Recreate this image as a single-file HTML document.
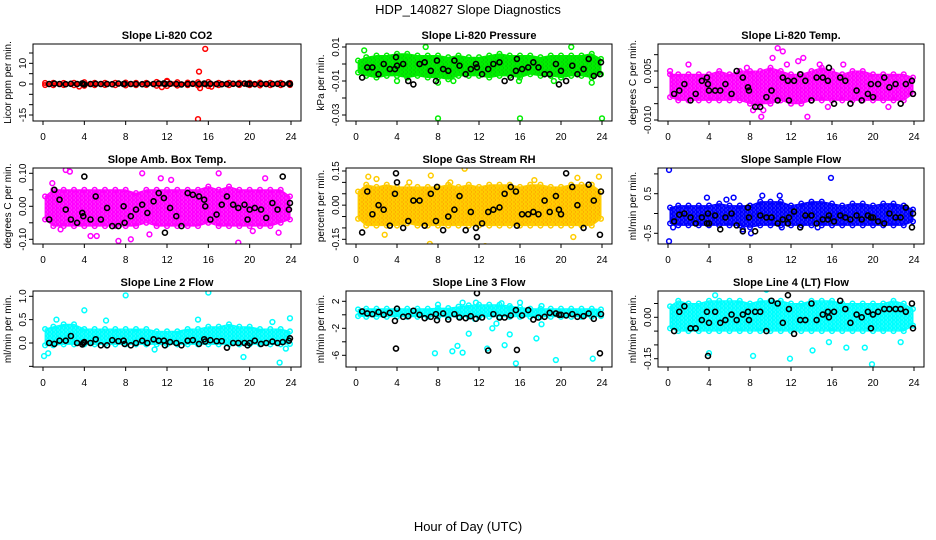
<!DOCTYPE html>
<html><head><meta charset="utf-8"><style>
html,body{margin:0;padding:0;background:#fff;}
svg{display:block;font-family:"Liberation Sans",Arial,sans-serif;}
</style></head><body>
<svg id="chart" width="936" height="540" viewBox="0 0 936 540" xmlns="http://www.w3.org/2000/svg">
<defs id="defs"></defs>
<text x="468" y="14" text-anchor="middle" font-size="13">HDP_140827  Slope Diagnostics</text>
<text x="468" y="531" text-anchor="middle" font-size="13">Hour of Day (UTC)</text>
</svg>
<script>
const blackHours=[0.6,1.1,1.6,2.2,2.7,3.3,3.8,3.9,4.0,4.6,5.1,5.6,6.2,6.7,7.3,7.8,7.9,8.5,9.0,9.6,10.1,10.7,11.2,11.7,11.8,12.3,12.9,13.4,14.0,14.5,15.1,15.6,15.7,16.2,16.8,17.3,17.8,18.4,18.9,19.5,19.8,20.0,20.5,21.1,21.6,22.2,22.7,23.2,23.8,23.9];
const bandHours=[0.2,1,2,3,4,5,6,7,8,9,10,11,12,13,14,15,16,17,18,19,20,21,22,23,23.9];
const xTicks=[0,4,8,12,16,20,24];

const co2Black=[0,0.2,0,-0.1,0.1,0,0.3,0,-0.2,0,0.1,0,0,-0.1,0.2,0,0.1,0,0,-0.1,0.1,0,0.2,0.3,0,0.1,0,-0.2,0,0.1,0,0.2,0,0.1,0,-0.1,0,0.1,0,0.2,0,0,-0.1,0.1,0,0,0.1,0,0.2,0];
const co2Lo=[-0.5,-0.6,-0.5,-0.6,-0.9,-0.6,-0.5,-0.6,-0.7,-0.6,-0.5,-0.9,-1.0,-0.8,-0.6,-0.8,-1.0,-0.6,-0.6,-0.5,-0.6,-0.7,-0.6,-0.6,-0.5];
const co2Hi=[0.5,0.6,0.5,0.6,0.9,0.6,0.6,0.6,0.7,0.6,0.6,1.0,1.2,0.9,0.7,0.9,1.0,0.6,0.6,0.6,0.6,0.7,0.6,0.6,0.5];
const co2OutX=[15.7,15.1,15.0,15.2,12.0,11.5,3.5,16.3];
const co2OutY=[17,6,-17,-2,1.5,-1.5,-1.2,-1.3];

const pressBlack=[-0.008,-0.002,-0.002,-0.006,0,-0.003,-0.003,0.004,-0.001,0,-0.01,-0.012,0,0.001,-0.004,-0.01,0.002,-0.003,-0.004,0.002,-0.001,-0.006,-0.003,0,-0.002,-0.006,-0.003,0,0.001,-0.01,-0.008,-0.004,0.003,-0.003,-0.002,0.001,-0.002,-0.006,-0.006,0,-0.012,-0.004,-0.01,-0.001,-0.006,-0.003,0.003,-0.007,-0.006,0.001];
const pressLo=[-0.005,-0.007,-0.008,-0.007,-0.007,-0.008,-0.007,-0.008,-0.008,-0.009,-0.007,-0.007,-0.007,-0.008,-0.007,-0.007,-0.008,-0.006,-0.007,-0.007,-0.008,-0.007,-0.007,-0.008,-0.006];
const pressHi=[0.002,0.004,0.005,0.005,0.006,0.006,0.005,0.005,0.005,0.004,0.005,0.004,0.004,0.005,0.006,0.005,0.005,0.005,0.004,0.005,0.005,0.005,0.005,0.006,0.003];
const pressOutX=[8,16,24,6.8,21,0.8,4.0,8.0,23,15.9,9.5,19.3];
const pressOutY=[-0.032,-0.032,-0.032,0.01,0.01,0.008,-0.01,-0.011,-0.011,-0.01,-0.01,-0.01];

const tempBlack=[-0.002,-0.001,0.001,-0.004,-0.002,0.002,0.003,0.001,-0.001,-0.001,-0.001,0.001,-0.002,0.005,0.003,0.0,-0.001,-0.006,-0.006,-0.003,-0.001,-0.004,0.003,0.002,-0.004,0.002,0.004,0.002,-0.004,0.003,0.003,0.002,0.006,-0.005,0.003,0.002,-0.005,-0.001,-0.004,-0.002,0.001,-0.003,0.001,0.003,0.0,0.001,-0.005,0.001,0.002,-0.002];
const tempLo=[-0.003,-0.004,-0.004,-0.004,-0.004,-0.004,-0.004,-0.004,-0.005,-0.005,-0.005,-0.004,-0.005,-0.005,-0.004,-0.004,-0.004,-0.004,-0.004,-0.004,-0.004,-0.004,-0.004,-0.004,-0.002];
const tempHi=[0.004,0.004,0.004,0.004,0.004,0.005,0.004,0.005,0.005,0.005,0.006,0.005,0.004,0.004,0.005,0.006,0.005,0.004,0.005,0.005,0.004,0.004,0.004,0.004,0.003];
const tempOutX=[2,10.7,11.2,10.2,12.7,13.2,8.3,9.1,9.3,13.6,15.6,21.5,14.8,17.1,0.2,11.6,7.7,8.7];
const tempOutY=[0.007,0.012,0.011,0.009,0.008,0.009,-0.007,-0.009,-0.007,-0.009,-0.006,-0.006,0.007,0.007,0.005,0.007,0.006,-0.006];

const ambBlack=[-0.04,0.05,0.02,-0.01,-0.04,-0.05,-0.02,-0.03,0.09,-0.04,0.03,-0.04,-0.005,-0.06,-0.06,0.0,-0.05,-0.03,-0.01,0.005,-0.02,0.015,0.04,0.025,-0.08,-0.005,-0.03,-0.06,0.04,0.035,0.03,0.02,0.0,-0.04,-0.025,0.005,0.03,0.005,-0.005,0.005,-0.04,-0.01,-0.005,-0.01,-0.035,0.01,-0.01,0.09,-0.01,0.01];
const ambLo=[-0.04,-0.06,-0.06,-0.06,-0.06,-0.06,-0.06,-0.06,-0.06,-0.06,-0.05,-0.06,-0.06,-0.06,-0.06,-0.06,-0.05,-0.06,-0.06,-0.06,-0.06,-0.06,-0.06,-0.05,-0.04];
const ambHi=[0.03,0.05,0.05,0.05,0.05,0.05,0.05,0.05,0.05,0.04,0.05,0.05,0.05,0.05,0.05,0.05,0.06,0.05,0.06,0.05,0.05,0.05,0.05,0.05,0.03];
const ambOutX=[2.2,2.6,9.6,11.4,17.0,21.5,4.6,5.2,7.3,8.5,10.3,18.9,22.8,1.7,20.3,0.9,12.4];
const ambOutY=[0.11,0.105,0.10,0.085,0.10,0.085,-0.09,-0.09,-0.105,-0.10,-0.085,-0.11,-0.08,-0.07,-0.075,0.07,0.08];

const rhBlack=[-0.12,0.06,-0.04,0.0,-0.02,-0.09,0.05,0.14,0.1,-0.1,-0.07,0.02,0.02,-0.09,0.05,-0.07,0.08,-0.11,-0.05,-0.02,0.04,-0.11,-0.03,-0.10,-0.14,-0.08,-0.03,-0.02,-0.01,0.05,0.08,0.06,-0.09,-0.04,-0.04,-0.03,-0.04,0.02,-0.03,0.04,-0.02,-0.04,0.14,0.08,0.0,-0.10,0.09,0.02,-0.13,0.06];
const rhLo=[-0.06,-0.09,-0.09,-0.09,-0.09,-0.08,-0.09,-0.09,-0.09,-0.09,-0.09,-0.09,-0.09,-0.09,-0.09,-0.09,-0.09,-0.09,-0.09,-0.09,-0.09,-0.09,-0.09,-0.09,-0.06];
const rhHi=[0.06,0.09,0.08,0.09,0.08,0.08,0.08,0.08,0.08,0.09,0.08,0.09,0.08,0.09,0.09,0.09,0.08,0.09,0.09,0.08,0.08,0.09,0.09,0.09,0.06];
const rhOutX=[1.2,2.0,3.4,7.3,10.6,12.6,7.2,21.6,23.7,21.2,2.8,5.2,9.2,17.4];
const rhOutY=[0.125,0.115,-0.19,0.13,0.16,-0.18,-0.17,0.12,0.125,-0.14,-0.13,0.1,0.1,0.11];

const flowBlack=[-0.2,-0.03,0.0,-0.1,-0.25,-0.1,-0.25,0.0,-0.25,-0.05,-0.4,-0.1,0.0,-0.3,-0.45,0.15,-0.1,-0.45,-0.05,-0.1,-0.1,-0.25,-0.15,-0.25,-0.1,0.05,-0.35,-0.05,-0.05,-0.25,-0.15,-0.15,-0.05,-0.2,-0.05,-0.1,-0.15,-0.05,-0.15,-0.05,-0.1,-0.1,-0.2,-0.25,0.0,-0.1,-0.1,0.15,-0.35,0.0];
const flowLo=[-0.25,-0.3,-0.3,-0.3,-0.3,-0.3,-0.3,-0.3,-0.35,-0.3,-0.3,-0.3,-0.3,-0.3,-0.3,-0.3,-0.3,-0.3,-0.3,-0.3,-0.3,-0.3,-0.3,-0.3,-0.2];
const flowHi=[0.15,0.2,0.2,0.2,0.2,0.25,0.2,0.2,0.2,0.3,0.3,0.3,0.2,0.25,0.3,0.3,0.25,0.2,0.25,0.25,0.2,0.25,0.25,0.2,0.1];
const flowOutX=[0.1,15.9,0.1,0.5,8.1,9.2,10.9,3.8,5.7,6.4,14.6,11.1,7.3];
const flowOutY=[1.1,0.9,-0.7,-0.35,-0.5,0.45,0.45,0.4,0.35,0.4,-0.35,-0.35,-0.4];

const l2Black=[0.0,-0.02,0.05,0.05,0.15,0.0,-0.03,0.0,0.02,0.0,0.08,-0.05,-0.05,0.06,0.04,0.05,-0.02,-0.05,0.0,0.05,0.0,0.08,0.05,0.05,-0.05,0.02,0.0,-0.05,0.05,0.06,-0.02,0.08,0.03,0.06,0.04,0.04,-0.1,0.0,0.0,0.0,-0.05,0.0,0.05,-0.02,0.0,0.03,0.0,0.02,0.05,0.1];
const l2Lo=[-0.05,-0.05,-0.03,-0.03,-0.03,-0.03,-0.03,-0.03,-0.03,-0.03,-0.03,-0.03,-0.03,-0.03,-0.03,-0.03,-0.03,-0.03,-0.03,-0.03,-0.03,-0.03,-0.03,-0.03,-0.02];
const l2Hi=[0.3,0.35,0.4,0.4,0.3,0.3,0.3,0.3,0.3,0.3,0.3,0.25,0.25,0.25,0.3,0.3,0.35,0.35,0.4,0.35,0.35,0.3,0.3,0.3,0.25];
const l2OutX=[8.0,16,4.0,6.1,1.3,15.0,23.9,22.2,0.1,0.5,10.8,19.4,22.9,23.5];
const l2OutY=[1.02,1.08,0.7,0.48,0.5,0.5,0.53,0.45,-0.28,-0.22,-0.14,-0.3,-0.42,-0.12];

const l3Black=[0.5,0.2,0.1,0.4,0.0,0.3,-0.9,-5.0,0.9,-0.3,-0.2,0.6,0.0,-0.5,-0.3,0.1,-0.8,0.2,-0.7,0.1,-0.4,-0.5,-0.2,-0.6,3.2,-0.4,-5.3,0.1,-0.4,-0.4,-0.1,0.7,-5.2,-0.1,0.7,-0.7,-0.4,-0.3,0.3,0.2,0.0,0.0,-0.1,0.1,-0.3,-0.2,0.2,-0.6,-5.7,0.1];
const l3Lo=[-0.2,-0.3,-0.3,-0.3,-0.3,-0.3,-0.3,-0.3,-0.3,-0.3,-0.3,-0.3,-0.3,-0.3,-0.3,-0.3,-0.3,-0.3,-0.3,-0.3,-0.3,-0.3,-0.3,-0.3,-0.2];
const l3Hi=[0.8,0.9,0.9,0.9,0.9,0.9,0.9,0.9,1.0,1.0,1.2,1.4,1.5,1.5,1.5,1.3,1.1,0.9,0.9,0.9,0.9,0.9,0.9,0.9,0.8];
const l3OutX=[7.7,8.0,9.4,9.9,10.4,10.4,11.0,11.6,11.7,12.8,13.3,13.7,14.2,14.5,15.0,15.6,16.0,17.6,18.1,18.1,19.5,23.1,15.1];
const l3OutY=[-5.7,1.5,-5.4,-4.6,-5.6,1.8,-2.8,-0.6,1.8,-5.0,-2.0,-1.3,1.7,-4.5,-2.9,-7.2,1.8,-3.5,-1.4,1.3,-6.7,-6.5,1.0];

const l4Black=[-0.05,0.02,0.04,-0.04,-0.04,-0.01,0.02,-0.14,-0.02,0.02,-0.02,-0.01,0.01,-0.01,0.01,0.02,-0.01,0.02,0.02,-0.05,0.06,0.05,-0.02,0.08,0.03,-0.06,-0.01,-0.01,0.05,-0.01,0.01,0.02,0.0,0.02,0.06,0.03,-0.02,0.01,0.0,0.02,-0.04,0.01,0.02,0.03,0.03,0.03,0.03,0.02,0.05,-0.04];
const l4Lo=[-0.04,-0.05,-0.05,-0.05,-0.05,-0.05,-0.05,-0.05,-0.05,-0.05,-0.05,-0.05,-0.05,-0.05,-0.05,-0.05,-0.05,-0.05,-0.05,-0.05,-0.05,-0.05,-0.05,-0.05,-0.03];
const l4Hi=[0.04,0.06,0.05,0.05,0.06,0.06,0.06,0.06,0.05,0.06,0.06,0.06,0.05,0.05,0.06,0.06,0.06,0.05,0.05,0.05,0.05,0.05,0.06,0.05,0.03];
const l4OutX=[10.6,13.0,9.6,4.0,8.3,11.9,14.1,19.9,17.4,19.2,22.7,15.7,4.6];
const l4OutY=[0.13,0.11,0.1,-0.13,-0.14,-0.15,-0.12,-0.17,-0.11,-0.11,-0.09,-0.09,0.08];

const panelTitles=["Slope Li-820 CO2","Slope Li-820 Pressure","Slope Li-820 Temp.","Slope Amb. Box Temp.","Slope Gas Stream RH","Slope Sample Flow","Slope Line 2 Flow","Slope Line 3 Flow","Slope Line 4 (LT) Flow"];
const yTitles=["Licor ppm per min.","kPa per min.","degrees C per min.","degrees C per min.","percent per min.","ml/min per min.","ml/min per min.","ml/min per min.","ml/min per min."];
const yTickVals=[[15,10,5,0,-5,-10,-15],[0.01,0,-0.01,-0.02,-0.03],[0.01,0.005,0,-0.005,-0.01],[0.1,0.05,0,-0.05,-0.1],[0.15,0.1,0.05,0,-0.05,-0.1,-0.15],[1,0.5,0,-0.5],[1,0.5,0,-0.5],[2,0,-2,-4,-6],[0.05,0,-0.05,-0.1,-0.15]];
const yLabelVals=[[10,0,-15],[0.01,-0.01,-0.03],[0.005,-0.01],[0.1,0,-0.1],[0.15,0,-0.15],[0.5,-0.5],[1,0.5,0],[2,-2,-6],[0,-0.15]];
const yLabelText=[["10","0","-15"],["0.01","-0.01","-0.03"],["0.005","-0.010"],["0.10","0.00","-0.10"],["0.15","0.00","-0.15"],["0.5","-0.5"],["1.0","0.5","0.0"],["2","-2","-6"],["0.00","-0.15"]];

const series=[
 {b:co2Black,lo:co2Lo,hi:co2Hi,ox:co2OutX,oy:co2OutY},
 {b:pressBlack,lo:pressLo,hi:pressHi,ox:pressOutX,oy:pressOutY},
 {b:tempBlack,lo:tempLo,hi:tempHi,ox:tempOutX,oy:tempOutY},
 {b:ambBlack,lo:ambLo,hi:ambHi,ox:ambOutX,oy:ambOutY},
 {b:rhBlack,lo:rhLo,hi:rhHi,ox:rhOutX,oy:rhOutY},
 {b:flowBlack,lo:flowLo,hi:flowHi,ox:flowOutX,oy:flowOutY},
 {b:l2Black,lo:l2Lo,hi:l2Hi,ox:l2OutX,oy:l2OutY},
 {b:l3Black,lo:l3Lo,hi:l3Hi,ox:l3OutX,oy:l3OutY},
 {b:l4Black,lo:l4Lo,hi:l4Hi,ox:l4OutX,oy:l4OutY}];

// layout (pixels / styling only)
const colL=[33,346,658],colR=[301,612,924],rowT=[44,168,291],rowB=[121,244,367];
const calib=[[0,84,-15,115],[0.01,47,-0.03,115],[0.005,71,-0.01,120],[0.1,173.3,-0.1,239.3],[0.15,171,-0.15,239.3],[0.5,193.7,-0.5,233.3],[1,296.3,0,343],[2,301.3,-6,355.3],[0,317.3,-0.15,358.7]];
const styles=[{bg:"#ffffff",s:"#ff0000"},{bg:"#115511",s:"#00ee00"},{bg:"#ffffff",s:"#ff00ff"},{bg:"#ffffff",s:"#ff00ff"},{bg:"#ff2200",s:"#ffcc00"},{bg:"#ffffff",s:"#0000ff"},{bg:"#ffffff",s:"#00ffff"},{bg:"#ffffff",s:"#00ffff"},{bg:"#ffffff",s:"#00ffff"}];

const NS="http://www.w3.org/2000/svg";
const svg=document.getElementById('chart');
const defs=document.getElementById('defs');
function mk(tag,attrs,parent){const e=document.createElementNS(NS,tag);for(const k in attrs)e.setAttribute(k,attrs[k]);(parent||svg).appendChild(e);return e;}

for(let p=0;p<9;p++){
 const c=p%3,r=Math.floor(p/3);
 const L=colL[c],R=colR[c],T=rowT[r],B=rowB[r];
 const x0=L+10,x1=R-10;
 const xs=h=>x0+(x1-x0)*h/24;
 const cal=calib[p];
 const ys=v=>cal[1]+(v-cal[0])*(cal[3]-cal[1])/(cal[2]-cal[0]);
 const st=styles[p],d=series[p];
 const pat=mk('pattern',{id:'pat'+p,width:4,height:4,patternUnits:'userSpaceOnUse'},defs);
 mk('rect',{x:0,y:0,width:4,height:4,fill:st.bg},pat);
 mk('circle',{cx:2,cy:2,r:1.4,fill:'none',stroke:st.s,'stroke-width':2},pat);
 mk('rect',{x:0,y:0,width:1,height:4,fill:st.s},pat);
 const g=mk('g',{});
 
 
 const clipId='clip'+p;
 const cp=mk('clipPath',{id:clipId},g);
 mk('rect',{x:L,y:T,width:R-L,height:B-T},cp);
 const plot=mk('g',{'clip-path':'url(#'+clipId+')'},g);
 let pts=bandHours.map((h,i)=>xs(h).toFixed(1)+','+ys(d.hi[i]).toFixed(1));
 pts=pts.concat(bandHours.slice().reverse().map((h,j)=>{const i=bandHours.length-1-j;return xs(h).toFixed(1)+','+ys(d.lo[i]).toFixed(1);}));
 const band=mk('polygon',{points:pts.join(' '),fill:'url(#pat'+p+')',stroke:st.s,'stroke-width':1,'stroke-linejoin':'round'},plot);
 
 
 bandHours.forEach((h,i)=>{
  [d.lo[i],d.hi[i]].forEach(v=>{
   const e=mk('circle',{cx:xs(h),cy:ys(v),r:2.3,fill:'none',stroke:st.s,'stroke-width':1.5},plot);
   
   
  });
 });
 d.ox.forEach((h,i)=>{
  const e=mk('circle',{cx:xs(h),cy:ys(d.oy[i]),r:2.4,fill:'none',stroke:st.s,'stroke-width':1.5},plot);
  
  
 });
 blackHours.forEach((h,i)=>{
  const e=mk('circle',{cx:xs(h),cy:ys(d.b[i]),r:2.5,fill:'none',stroke:'#000','stroke-width':1.6},plot);
  
  
 });
 const box=mk('rect',{x:L,y:T,width:R-L,height:B-T,fill:'none',stroke:'#000','stroke-width':1},g);
 
 
 const t=mk('text',{x:(L+R)/2,y:T-5,'text-anchor':'middle','font-size':11,'font-weight':'bold'},g);
 t.textContent=panelTitles[p];
 
 
 xTicks.forEach(h=>{
  mk('line',{x1:xs(h),x2:xs(h),y1:B,y2:B+4,stroke:'#000'},g);
  const tl=mk('text',{x:xs(h),y:B+19,'text-anchor':'middle','font-size':10},g);
  tl.textContent=h;
  
  
 });
 yTickVals[p].forEach(v=>{mk('line',{x1:L-4,x2:L,y1:ys(v),y2:ys(v),stroke:'#000'},g);});
 yLabelVals[p].forEach((v,i)=>{
  const yy=ys(v),xx=L-7;
  const tl=mk('text',{x:xx,y:yy,'text-anchor':'middle','font-size':10,transform:'rotate(-90 '+xx+' '+yy+')'},g);
  tl.textContent=yLabelText[p][i];
  
  
 });
 const yx=L-22,yy=(T+B)/2;
 const yt=mk('text',{x:yx,y:yy,'text-anchor':'middle','font-size':10,transform:'rotate(-90 '+yx+' '+yy+')'},g);
 yt.textContent=yTitles[p];
 
 
}
</script>
</body></html>
